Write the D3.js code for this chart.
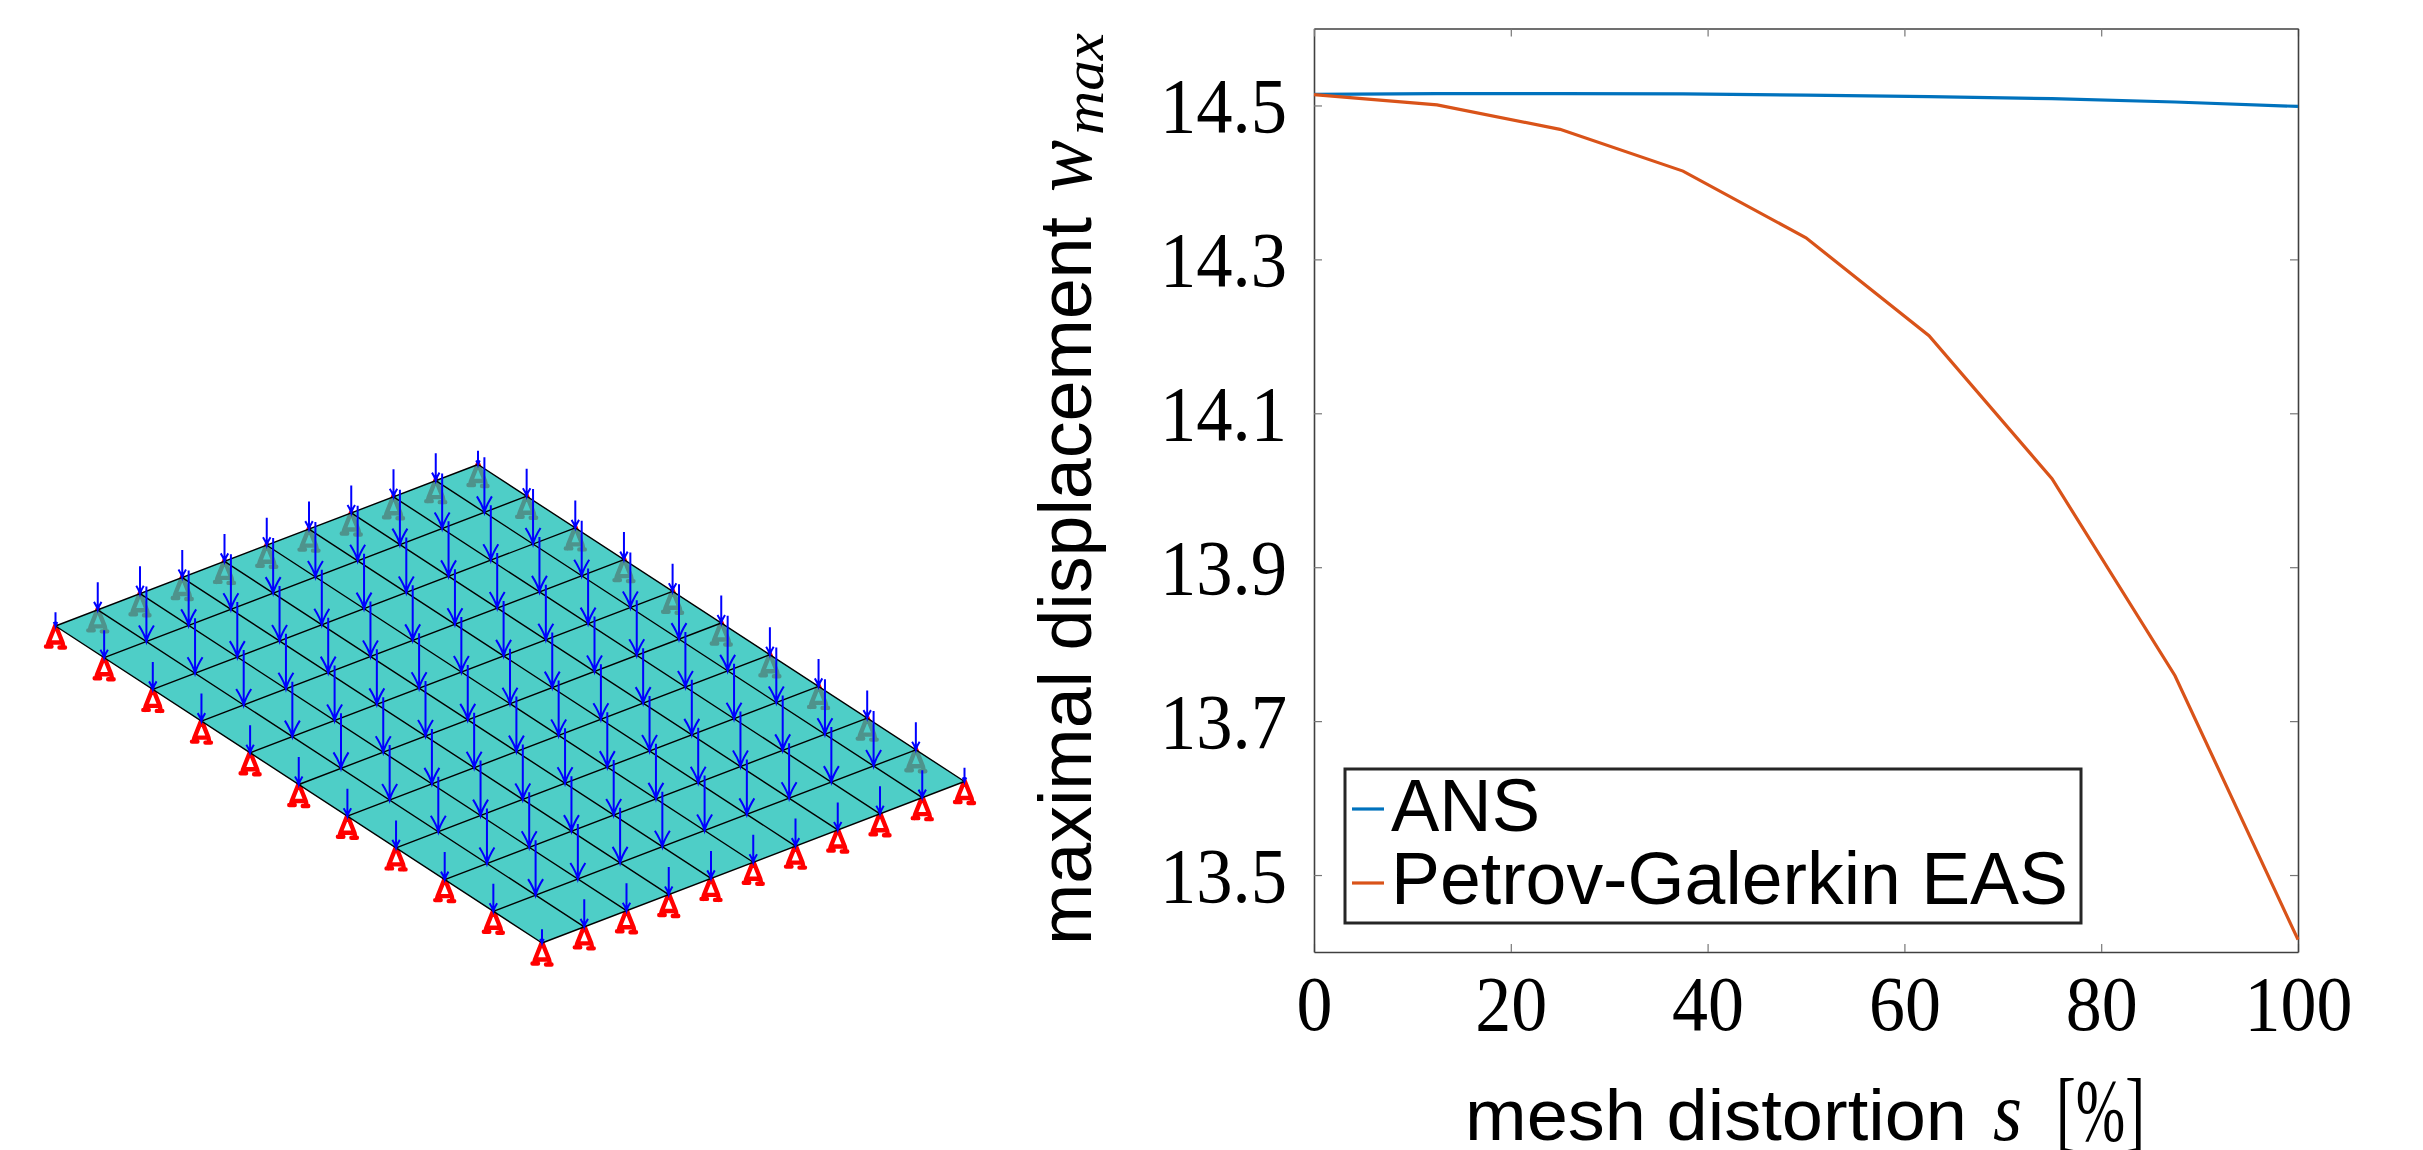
<!DOCTYPE html>
<html>
<head>
<meta charset="utf-8">
<script src="https://cdn.jsdelivr.net/npm/d3@7"></script>
<style>
  html, body { margin: 0; padding: 0; background: #fff; overflow: hidden; }
  svg { display: block; }
</style>
</head>
<body>
<div id="plotarea"></div>
<script>
// line chart data
var distortion = [0, 12.5, 25, 37.5, 50, 62.5, 75, 87.5, 100];
var ansValues = [14.5145, 14.5155, 14.5155, 14.515, 14.5135, 14.5115, 14.5088, 14.5045, 14.4987];
var easValues = [14.514, 14.5008, 14.469, 14.4147, 14.328, 14.2008, 14.015, 13.759, 13.416];
var seriesNames = ["ANS", "Petrov-Galerkin EAS"];
var seriesColors = ["#0072BD", "#D95319"];
var xTicks = [0, 20, 40, 60, 80, 100];
var yTicks = [13.5, 13.7, 13.9, 14.1, 14.3, 14.5];

// mesh: 10 x 10 elements, all nodes loaded, boundary nodes supported
var meshRows = [0, 1, 2, 3, 4, 5, 6, 7, 8, 9, 10];
var meshCols = [0, 1, 2, 3, 4, 5, 6, 7, 8, 9, 10];
var loadInterior = 1, loadEdge = 0.5, loadCorner = 0.25;

var width = 2423, height = 1150;
var svg = d3.select("#plotarea").append("svg")
    .attr("width", width)
    .attr("height", height);

// ---------- mesh on the left ----------
var meshX0 = 55.5, meshY0 = 626;
var rowX = d3.scaleLinear().domain([0, 10]).range([0, 422.5]);
var rowY = d3.scaleLinear().domain([0, 10]).range([0, -161.5]);
var colX = d3.scaleLinear().domain([0, 10]).range([0, 486.5]);
var colY = d3.scaleLinear().domain([0, 10]).range([0, 317]);
var loadLen = d3.scaleLinear().domain([0, 1]).range([0, 55]);

function nodeX(r, c) { return meshX0 + rowX(r) + colX(c); }
function nodeY(r, c) { return meshY0 + rowY(r) + colY(c); }

var nodes = [];
meshRows.forEach(function(r) {
    meshCols.forEach(function(c) {
        var onR = (r == 0 || r == 10), onC = (c == 0 || c == 10);
        nodes.push({
            r: r, c: c, boundary: onR || onC,
            load: (onR && onC) ? loadCorner : ((onR || onC) ? loadEdge : loadInterior)
        });
    });
});

var mesh = svg.append("g").attr("class", "mesh");

// supports go first so the plate covers the ones behind it
var supportPath = "M0,-1L-7,16.5L7,16.5Z M-7,16.5L-8,20.5 M7,16.5L8,21.5 M-9.5,20.5L-4,20.5 M4,21.5L9.5,21.5";
mesh.append("g").selectAll("path")
    .data(nodes.filter(function(d) { return d.boundary; }))
    .enter().append("path")
    .attr("transform", function(d) { return "translate(" + nodeX(d.r, d.c) + "," + nodeY(d.r, d.c) + ")"; })
    .attr("d", supportPath)
    .attr("fill", "none")
    .attr("stroke", "#ff0000")
    .attr("stroke-width", 4.4)
    .attr("stroke-linejoin", "round")
    .attr("stroke-linecap", "round");

var plate = d3.path();
plate.moveTo(nodeX(0, 0), nodeY(0, 0));
plate.lineTo(nodeX(10, 0), nodeY(10, 0));
plate.lineTo(nodeX(10, 10), nodeY(10, 10));
plate.lineTo(nodeX(0, 10), nodeY(0, 10));
plate.closePath();
mesh.append("path")
    .attr("d", plate.toString())
    .attr("fill", "rgb(25,191,182)")
    .attr("fill-opacity", 0.77);

var gridLines = d3.path();
meshRows.forEach(function(r) {
    gridLines.moveTo(nodeX(r, 0), nodeY(r, 0));
    gridLines.lineTo(nodeX(r, 10), nodeY(r, 10));
});
meshCols.forEach(function(c) {
    gridLines.moveTo(nodeX(0, c), nodeY(0, c));
    gridLines.lineTo(nodeX(10, c), nodeY(10, c));
});
mesh.append("path")
    .attr("d", gridLines.toString())
    .attr("fill", "none")
    .attr("stroke", "#000")
    .attr("stroke-width", 1.4);

// load arrows, head size follows the load
function arrowPath(d) {
    var x = nodeX(d.r, d.c), y = nodeY(d.r, d.c);
    var len = loadLen(d.load);
    var hw = 7.5 * d.load, hh = 16 * d.load;
    var p = d3.path();
    p.moveTo(x, y - len);
    p.lineTo(x, y);
    p.moveTo(x - hw, y - hh);
    p.quadraticCurveTo(x - hw * 0.25, y - hh * 0.45, x, y);
    p.quadraticCurveTo(x + hw * 0.25, y - hh * 0.45, x + hw, y - hh);
    return p.toString();
}
mesh.append("g").selectAll("path")
    .data(nodes)
    .enter().append("path")
    .attr("d", arrowPath)
    .attr("fill", "none")
    .attr("stroke", "#0000ff")
    .attr("stroke-width", 2);

// ---------- chart on the right ----------
var left = 1314, right = 2298, top_ = 28.5, bottom = 952;
var xScale = d3.scaleLinear().domain([0, 100]).range([left, right]);
var yScale = d3.scaleLinear().domain([13.4, 14.6]).range([bottom, top_]);

var chart = svg.append("g").attr("class", "chart");
var tickLen = 8;

// digit widths of the label, the font is squeezed to fit
function labelWidth(s) {
    var w = 0;
    for (var i = 0; i < s.length; i++) { w += (s[i] == ".") ? 19 : 36; }
    return w;
}

var xAxis = chart.append("g")
    .attr("transform", "translate(0," + bottom + ")")
    .call(d3.axisBottom(xScale).tickValues(xTicks).tickSizeInner(-tickLen).tickSizeOuter(0).tickFormat(d3.format("d")));
var yAxis = chart.append("g")
    .attr("transform", "translate(" + left + ",0)")
    .call(d3.axisLeft(yScale).tickValues(yTicks).tickSizeInner(-tickLen).tickSizeOuter(0).tickFormat(d3.format(".1f")));
var xAxisTop = chart.append("g")
    .attr("transform", "translate(0," + top_ + ")")
    .call(d3.axisTop(xScale).tickValues(xTicks).tickSizeInner(-tickLen).tickSizeOuter(0).tickFormat(""));
var yAxisRight = chart.append("g")
    .attr("transform", "translate(" + right + ",0)")
    .call(d3.axisRight(yScale).tickValues(yTicks).tickSizeInner(-tickLen).tickSizeOuter(0).tickFormat(""));

[xAxis, yAxis, xAxisTop, yAxisRight].forEach(function(a) {
    a.selectAll(".tick line").attr("stroke", "#777").attr("stroke-width", 1.2);
    a.select(".domain").attr("stroke", "#404040").attr("stroke-width", 1.6);
});

xAxis.selectAll(".tick text")
    .attr("y", 78)
    .attr("dy", 0)
    .attr("font-family", "'Liberation Serif', serif")
    .attr("font-size", 79)
    .attr("fill", "#000")
    .attr("textLength", function(d) { return labelWidth(String(d)); })
    .attr("lengthAdjust", "spacingAndGlyphs");
yAxis.selectAll(".tick text")
    .attr("x", -27)
    .attr("dy", 0)
    .attr("y", 26.5)
    .attr("font-family", "'Liberation Serif', serif")
    .attr("font-size", 79)
    .attr("fill", "#000")
    .attr("textLength", function(d) { return labelWidth(d.toFixed(1)); })
    .attr("lengthAdjust", "spacingAndGlyphs");

var line = d3.line()
    .x(function(d) { return xScale(d[0]); })
    .y(function(d) { return yScale(d[1]); });

[ansValues, easValues].forEach(function(vals, i) {
    chart.append("path")
        .datum(distortion.map(function(x, k) { return [x, vals[k]]; }))
        .attr("d", line)
        .attr("fill", "none")
        .attr("stroke", seriesColors[i])
        .attr("stroke-width", 3.2);
});

// legend
var legend = chart.append("g").attr("class", "legend");
legend.append("rect")
    .attr("x", 1345).attr("y", 769)
    .attr("width", 736).attr("height", 154)
    .attr("fill", "#fff")
    .attr("stroke", "#262626")
    .attr("stroke-width", 3);
var legendRowY = d3.scaleOrdinal().domain(seriesNames).range([809, 883]);
var legendBaseline = d3.scaleOrdinal().domain(seriesNames).range([831, 904]);
var legendTextWidth = d3.scaleOrdinal().domain(seriesNames).range([149, 677]);
var rows = legend.selectAll("g").data(seriesNames).enter().append("g");
rows.append("line")
    .attr("x1", 1352).attr("x2", 1384)
    .attr("y1", function(d) { return legendRowY(d); })
    .attr("y2", function(d) { return legendRowY(d); })
    .attr("stroke", function(d, i) { return seriesColors[i]; })
    .attr("stroke-width", 3.2);
rows.append("text")
    .attr("x", 1391)
    .attr("y", function(d) { return legendBaseline(d); })
    .attr("font-family", "'Liberation Sans', sans-serif")
    .attr("font-size", 75)
    .attr("textLength", function(d) { return legendTextWidth(d); })
    .attr("lengthAdjust", "spacingAndGlyphs")
    .text(function(d) { return d; });

// small helper for the fitted label pieces
function label(txt, x, y, rot, family, style, size, len) {
    return chart.append("text")
        .attr("transform", "translate(" + x + "," + y + ")" + (rot ? " rotate(" + rot + ")" : ""))
        .attr("font-family", family)
        .attr("font-style", style)
        .attr("font-size", size)
        .attr("textLength", len)
        .attr("lengthAdjust", "spacingAndGlyphs")
        .text(txt);
}
var sans = "'Liberation Sans', sans-serif", serif = "'Liberation Serif', serif";

// x label
label("mesh distortion", 1465, 1140, 0, sans, "normal", 73, 502);
label("s", 1993, 1140, 0, serif, "italic", 84, 29);
label("[%]", 2056, 1140, 0, serif, "normal", 88, 89);

// y label, rotated
label("maximal displacement", 1091, 945, -90, sans, "normal", 75, 728);
label("w", 1091, 192, -90, serif, "italic", 84, 52);
label("max", 1103, 135, -90, serif, "italic", 57, 102);
</script>
</body>
</html>
